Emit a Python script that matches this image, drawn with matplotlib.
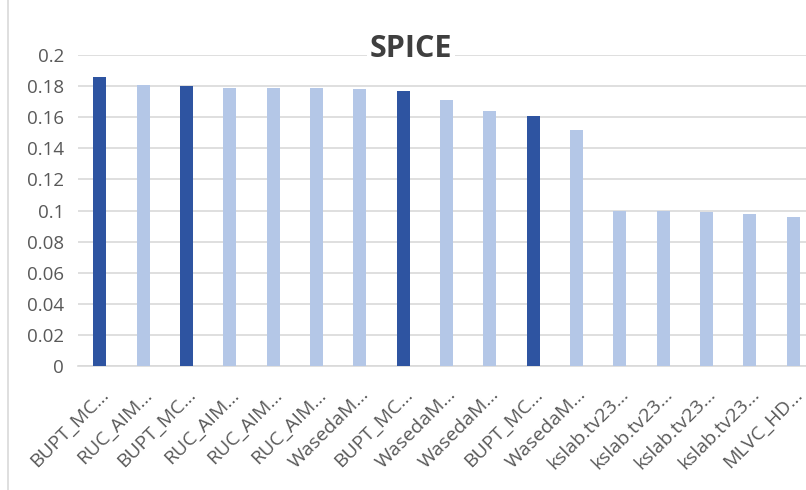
import matplotlib
matplotlib.use("Agg")
import matplotlib.pyplot as plt
from matplotlib.lines import Line2D

labels = ["BUPT_MC…", "RUC_AIM…", "BUPT_MC…", "RUC_AIM…", "RUC_AIM…", "RUC_AIM…",
          "WasedaM…", "BUPT_MC…", "WasedaM…", "WasedaM…", "BUPT_MC…", "WasedaM…",
          "kslab.tv23…", "kslab.tv23…", "kslab.tv23…", "kslab.tv23…", "MLVC_HD…"]
values = [0.186, 0.181, 0.180, 0.179, 0.179, 0.179, 0.178, 0.177, 0.171, 0.164,
          0.161, 0.152, 0.100, 0.100, 0.099, 0.098, 0.096]
highlight = [True, False, True, False, False, False, False, True, False, False,
             True, False, False, False, False, False, False]
yticks = [0, 0.02, 0.04, 0.06, 0.08, 0.1, 0.12, 0.14, 0.16, 0.18, 0.2]

dark = "#2E54A1"
light = "#B4C7E7"
text_color = "#595959"
font = "Open Sans"

fig = plt.figure(figsize=(8.06, 4.90), dpi=100)
ax = fig.add_axes([78 / 806, 1 - 366 / 490, (815 - 78) / 806, (366 - 55) / 490])

x = list(range(len(values)))
colors = [dark if h else light for h in highlight]
ax.bar(x, values, width=0.3, color=colors, zorder=3)

ax.set_xlim(-0.5, len(values) - 0.5)
ax.set_ylim(0, 0.2)
ax.set_yticks(yticks)
ax.set_yticklabels([f"{t:g}" for t in yticks], fontsize=13.5, color=text_color, family=font)
ax.yaxis.grid(True, color="#D9D9D9", linewidth=1.2, zorder=0)
ax.set_axisbelow(True)
for side in ["top", "right", "left"]:
    ax.spines[side].set_visible(False)
ax.spines["bottom"].set_color("#D9D9D9")
ax.spines["bottom"].set_linewidth(1.2)
ax.tick_params(axis="both", length=0)
ax.tick_params(axis="y", pad=10)

ax.set_xticks(x)
ax.set_xticklabels(labels, rotation=45, ha="right", rotation_mode="anchor",
                   fontsize=14, color=text_color, family=font)
ax.tick_params(axis="x", pad=14)

fig.text(411 / 806, 1 - 49 / 490, "SPICE", ha="center", va="center",
         fontsize=22, fontweight="bold", color="#3F3F3F", family=font,
         bbox=dict(facecolor="white", edgecolor="none", pad=2))

fig.add_artist(Line2D([8 / 806, 8 / 806], [0, 1], transform=fig.transFigure,
                      color="#D9D9D9", linewidth=1.2))

fig.savefig("out.png", dpi=100)
